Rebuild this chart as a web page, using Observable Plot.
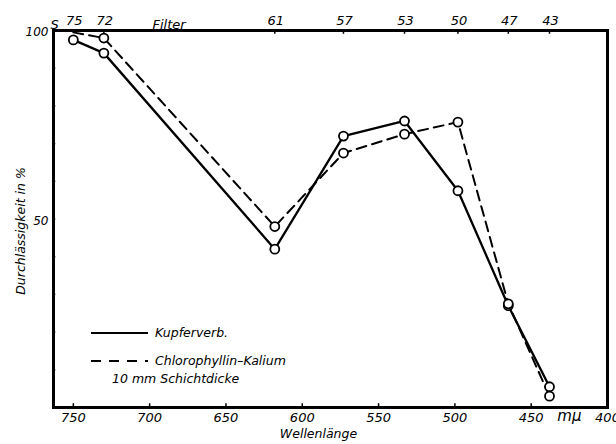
<!DOCTYPE html>
<html><head><meta charset="utf-8">
<script src="https://cdn.jsdelivr.net/npm/d3@7"></script>
<script src="https://cdn.jsdelivr.net/npm/@observablehq/plot@0.6"></script>
<style>
body{margin:0;background:#fff}
svg{font-family:"DejaVu Sans",sans-serif;font-style:italic}
</style>
</head><body><div id="chart"></div>
<script>
// Wavelengths (mμ) of the filters and their filter numbers (top axis)
const wavelengths = [750, 730, 618, 573, 533, 498, 465, 438];
const filters = ["75", "72", "61", "57", "53", "50", "47", "43"];
// Transmission in %
const kupfer = [97.5, 94, 42, 72, 76, 57.5, 27, 5.5];
const chlorophyllin = [99.5, 98, 48, 67.5, 72.5, 75.7, 27.5, 3];
// Axis ticks
const xTicks = [750, 700, 650, 600, 550, 500, 450];
const xLabels = [750, 700, 650, 600, 550, 500, 450, 400];
const yTicks = [10, 20, 30, 40, 50, 60, 70, 80, 90];
const yLabels = [50, 100];

const kData = wavelengths.map((w, i) => ({w, v: kupfer[i], s: "Kupferverb."}));
const cData = wavelengths.map((w, i) => ({w, v: chlorophyllin[i], s: "Chlorophyllin-Kalium", i}));

const chart = Plot.plot({
  width: 616, height: 444,
  marginLeft: 53, marginRight: 9, marginTop: 30, marginBottom: 37,
  style: {fontSize: "13px", fontStyle: "italic", background: "#fff", color: "#000"},
  x: {domain: [763, 400], label: null},
  y: {domain: [0, 100], label: null},
  marks: [
    // inward ticks
    Plot.ruleX(xTicks, {y1: 0, y2: 1, stroke: "#000", strokeWidth: 1.5}),
    Plot.ruleX(wavelengths.slice(1), {y1: 100, y2: 99, stroke: "#000", strokeWidth: 1.5}),
    Plot.ruleY(yTicks, {x1: 763, x2: 761.5, stroke: "#000", strokeWidth: 1.5}),
    Plot.axisX({ticks: xLabels, tickSize: 0, tickPadding: 5, fontSize: 13, label: null}),
    Plot.axisX({anchor: "top", ticks: wavelengths, tickSize: 0, tickPadding: 6, fontSize: 13,
      tickFormat: d => filters[wavelengths.indexOf(d)], label: null, dx: 1}),
    Plot.axisY({ticks: yLabels, tickSize: 0, tickPadding: 5, fontSize: 12, label: null, dy: 2}),
    Plot.text(["Wellenlänge"], {frameAnchor: "bottom", dy: 30, dx: -12, fontSize: 12.5}),
    Plot.text(["Durchlässigkeit in %"], {frameAnchor: "left", textAnchor: "middle", dx: -33, dy: 12, rotate: -90, fontSize: 12.5}),
    Plot.text(["S"], {frameAnchor: "top-left", dy: -11, dx: -3, fontSize: 13}),
    Plot.text(["Filter"], {frameAnchor: "top-left", dy: -11, dx: 99, fontSize: 13}),
    Plot.text(["mμ"], {frameAnchor: "bottom-right", dy: 13, dx: -26, fontSize: 15}),
    Plot.frame({stroke: "#000", strokeWidth: 3}),
    Plot.line(kData, {x: "w", y: "v", stroke: "#000", strokeWidth: 2.3}),
    Plot.line(cData, {x: "w", y: "v", stroke: "#000", strokeWidth: 2, strokeDasharray: "10,6"}),
    Plot.dot(kData, {x: "w", y: "v", r: 4.5, stroke: "#000", strokeWidth: 1.8, fill: "#fff"}),
    Plot.dot(cData.filter(d => d.i > 0), {x: "w", y: "v", r: 4.5, stroke: "#000", strokeWidth: 1.8, fill: "#fff"})
  ]
});
document.getElementById("chart").appendChild(chart);

// Legend
const svg = d3.select(chart);
const lg = svg.append("g").attr("font-size", 12.5).attr("font-style", "italic").attr("text-anchor", "start");
lg.append("line").attr("x1", 91).attr("x2", 148).attr("y1", 333).attr("y2", 333)
  .attr("stroke", "#000").attr("stroke-width", 2);
lg.append("text").attr("x", 155).attr("y", 337).text("Kupferverb.");
lg.append("line").attr("x1", 91).attr("x2", 148).attr("y1", 361).attr("y2", 361)
  .attr("stroke", "#000").attr("stroke-width", 2).attr("stroke-dasharray", "10,8");
lg.append("text").attr("x", 155).attr("y", 365).text("Chlorophyllin–Kalium");
lg.append("text").attr("x", 112).attr("y", 383).text("10 mm Schichtdicke");
</script>
</body></html>
